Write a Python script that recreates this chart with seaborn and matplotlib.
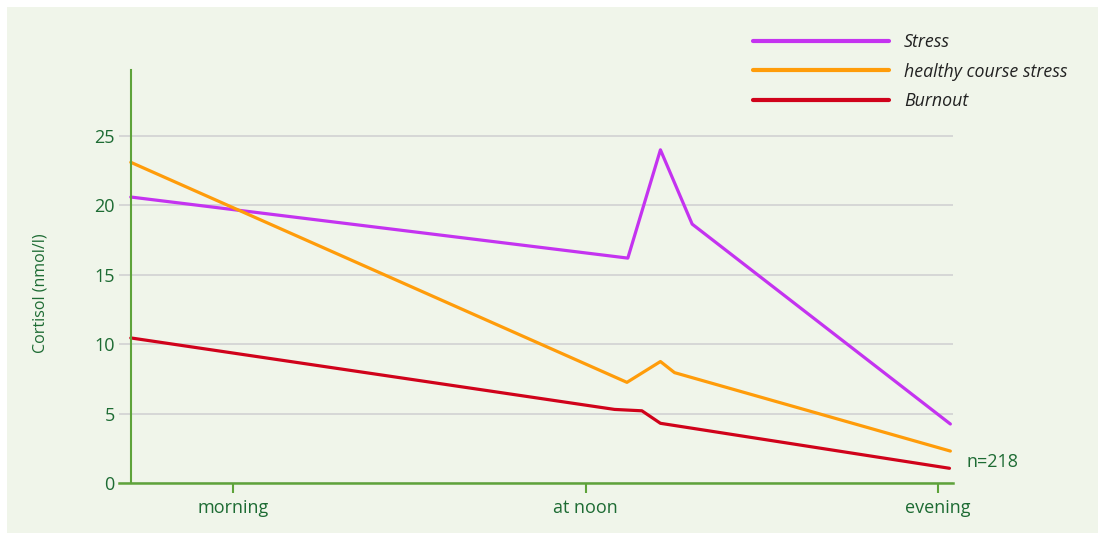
import matplotlib
matplotlib.use("Agg")
import matplotlib.pyplot as plt
from matplotlib.patches import Rectangle
import seaborn as sns
import pandas as pd

# hours of the day, morning=8, noon=12, evening=16
stress_x = [6.84, 12.48, 12.85, 13.21, 16.14]
stress_y = [20.6, 16.2, 24.0, 18.65, 4.25]
healthy_x = [6.84, 12.47, 12.85, 13.01, 16.14]
healthy_y = [23.1, 7.25, 8.75, 7.95, 2.3]
burnout_x = [6.84, 12.33, 12.64, 12.85, 16.13]
burnout_y = [10.45, 5.3, 5.2, 4.3, 1.06]

tick_pos = [8, 12, 16]
tick_labels = ["morning", "at noon", "evening"]
y_ticks = [0, 5, 10, 15, 20, 25]

series = ["Stress", "healthy course stress", "Burnout"]
colors = ["#c433f0", "#ff9c0a", "#d0021b"]

df = pd.concat([
    pd.DataFrame({"x": stress_x, "y": stress_y, "series": series[0]}),
    pd.DataFrame({"x": healthy_x, "y": healthy_y, "series": series[1]}),
    pd.DataFrame({"x": burnout_x, "y": burnout_y, "series": series[2]}),
])

sns.set_style("white")
plt.rcParams['font.family'] = ['Open Sans', 'DejaVu Sans']

green_txt = "#1d6b33"
green_line = "#5ea33a"
bg = "#f0f5ea"

W, H = 1105, 540
fig = plt.figure(figsize=(W / 100, H / 100), dpi=100)
fig.patch.set_facecolor("white")
fig.patches.append(Rectangle((7 / W, 7 / H), (1098 - 7) / W, (533 - 7) / H,
                             transform=fig.transFigure, facecolor=bg,
                             edgecolor="none", zorder=-10))

ax = fig.add_axes([119 / W, 1 - 483 / H, (953 - 119) / W, (483 - 70) / H])
ax.set_facecolor("none")

sns.lineplot(data=df, x="x", y="y", hue="series", palette=colors,
             hue_order=series, linewidth=2.3, sort=False, estimator=None,
             ax=ax, legend=True)

ax.set_xlim(6.706, 16.17)
ax.set_ylim(0, 29.75)

for s in ["top", "right"]:
    ax.spines[s].set_visible(False)
ax.spines["left"].set_position(("data", 6.84))
ax.spines["left"].set_color(green_line)
ax.spines["left"].set_linewidth(1.5)
ax.spines["bottom"].set_color(green_line)
ax.spines["bottom"].set_linewidth(1.8)

ax.set_yticks(y_ticks)
ax.grid(axis="y", color="#d4d4d4", linewidth=1.3)
ax.grid(axis="x", visible=False)
ax.set_axisbelow(True)
ax.tick_params(axis="y", left=False, length=0, pad=11.5, labelsize=13,
               labelcolor=green_txt)
ax.set_xticks(tick_pos)
ax.set_xticklabels(tick_labels)
ax.tick_params(axis="x", bottom=True, direction="out", length=7.5, width=1.5,
               color=green_line, pad=4, labelsize=13, labelcolor=green_txt)

ax.set_xlabel("")
ax.set_ylabel("Cortisol (nmol/l)", color=green_txt, fontsize=11.5)
ax.yaxis.set_label_coords(-0.084, 0.46)

ax.text(967 / W, 1 - 462 / H, "n=218", transform=fig.transFigure,
        color=green_txt, fontsize=13, va="center", ha="left")

leg = ax.legend(loc="upper left", bbox_to_anchor=(737 / W, 1 - 17 / H),
                bbox_transform=fig.transFigure, frameon=False,
                prop={"style": "italic", "size": 12.8},
                handlelength=7.65, handletextpad=0.85, labelspacing=0.65)
for t in leg.get_texts():
    t.set_color("#222222")
for l in leg.get_lines():
    l.set_linewidth(3)

fig.savefig("out.png", dpi=100, facecolor="white")
